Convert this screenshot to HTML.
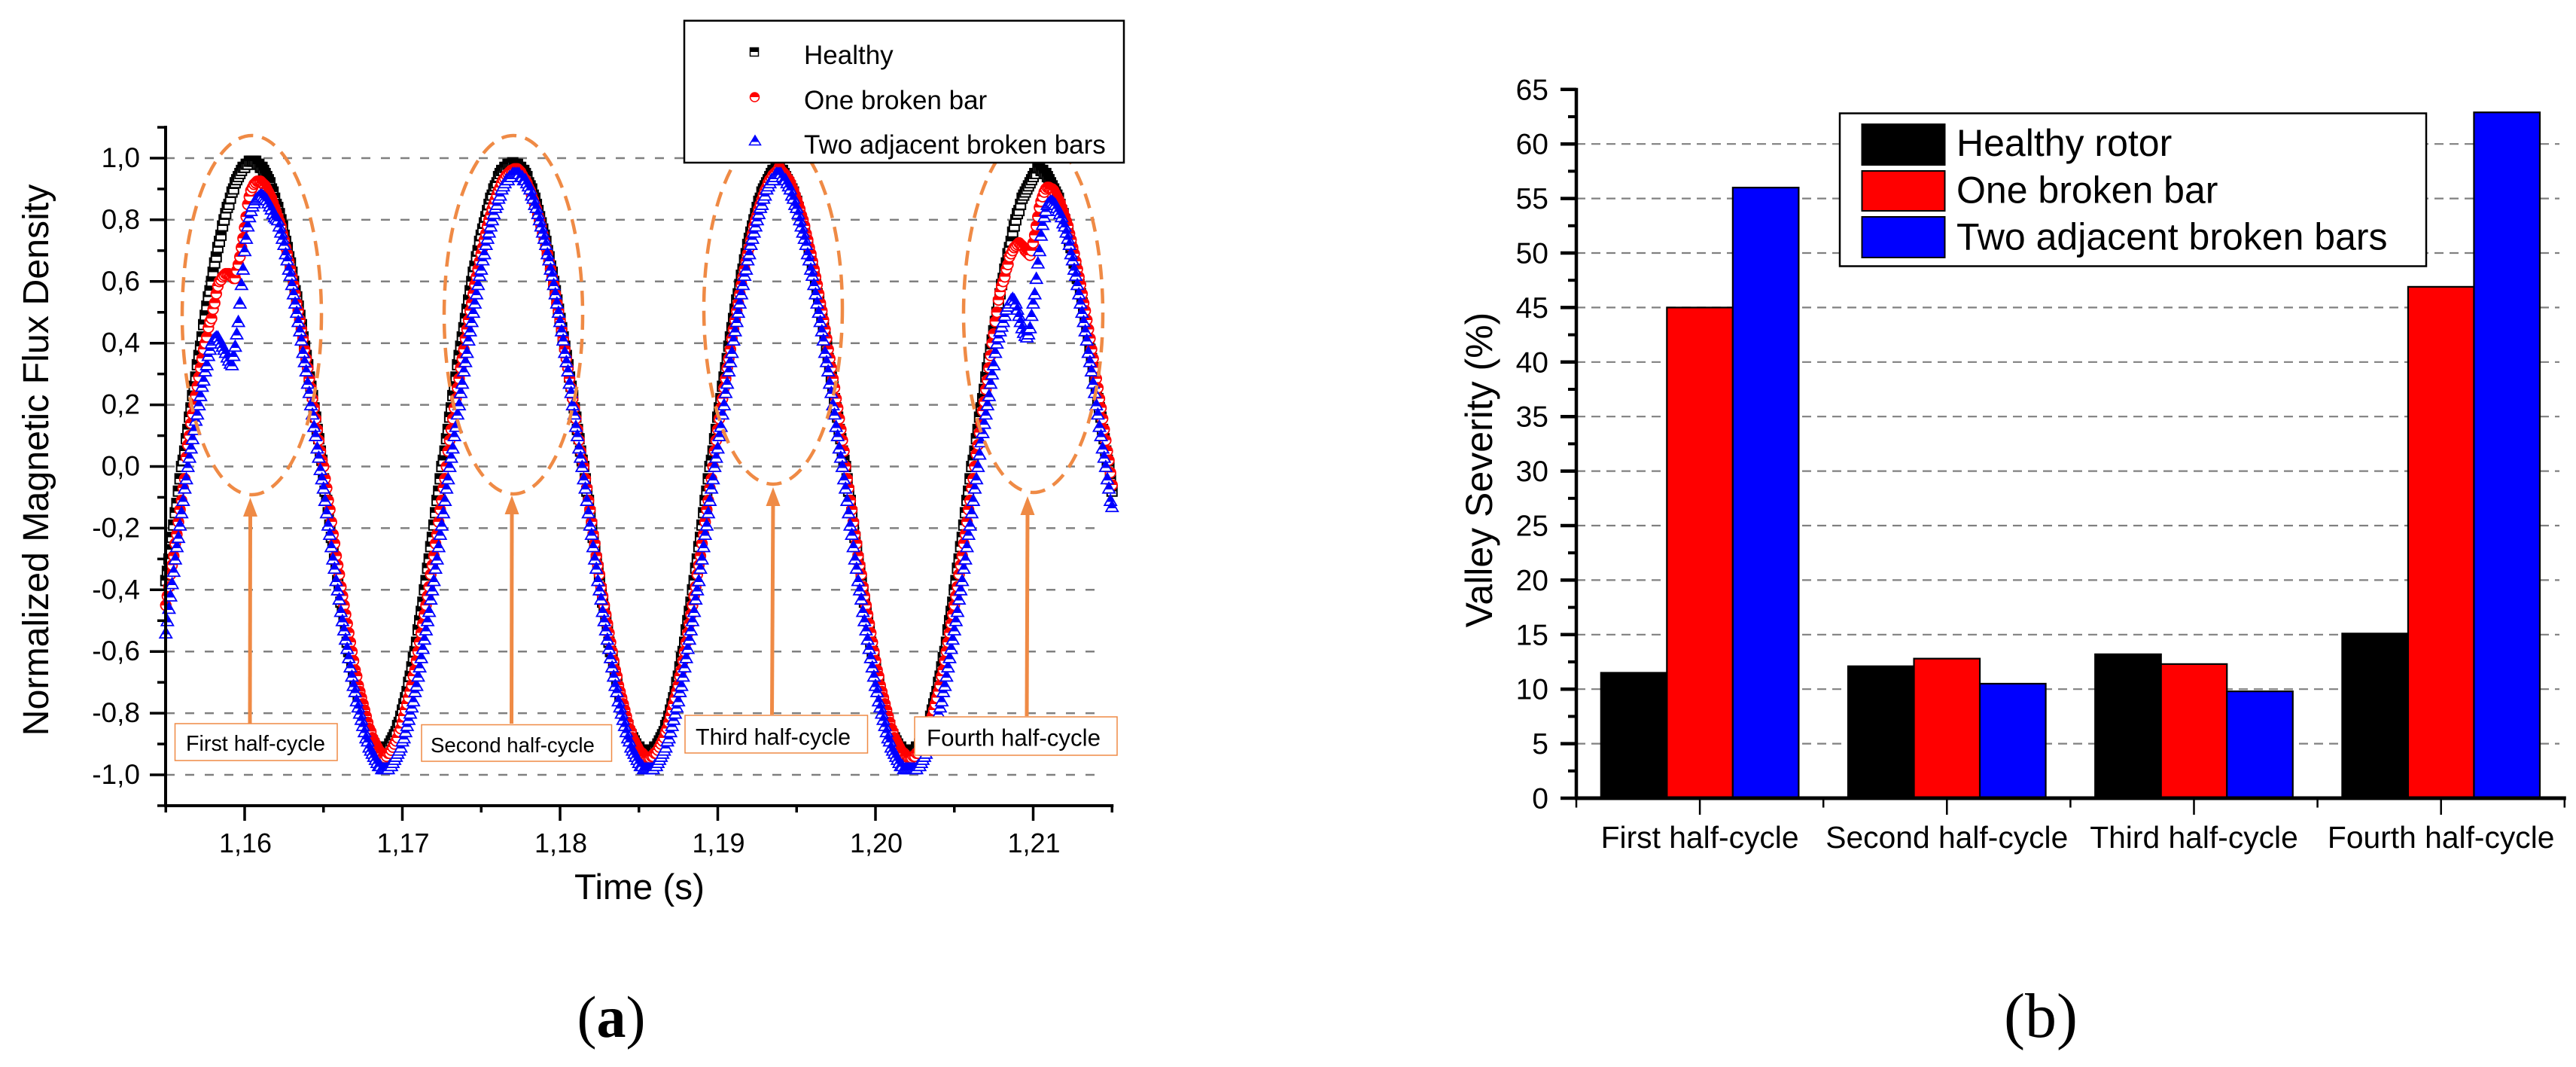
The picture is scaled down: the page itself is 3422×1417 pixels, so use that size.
<!DOCTYPE html>
<html lang="en">
<head>
<meta charset="utf-8">
<title>Normalized flux density and valley severity</title>
<style>
html,body{margin:0;padding:0;background:#fff;}
svg{display:block;}
text{font-family:"Liberation Sans",Arial,sans-serif;fill:#000;}
.serif{font-family:"Liberation Serif",serif;}
</style>
</head>
<body>
<svg id="figure" xmlns="http://www.w3.org/2000/svg" width="3422" height="1417" viewBox="0 0 3422 1417">
  <defs>
    <linearGradient id="half-black" x1="0" y1="0" x2="0" y2="1"><stop offset="0.5" stop-color="#000"/><stop offset="0.5" stop-color="#fff"/></linearGradient>
    <linearGradient id="half-red" x1="0" y1="0" x2="0" y2="1"><stop offset="0.5" stop-color="#f00"/><stop offset="0.5" stop-color="#fff"/></linearGradient>
    <linearGradient id="half-blue" x1="0" y1="0" x2="0" y2="1"><stop offset="0.68" stop-color="#00f"/><stop offset="0.68" stop-color="#fff"/></linearGradient>
  </defs>
  <rect x="0" y="0" width="3422" height="1417" fill="#fff"/>

  <g id="chart-a">
    <g id="a-grid"></g>
    <g id="a-series"></g>
    <g id="a-axes"></g>
    <text transform="translate(64,611) rotate(-90)" text-anchor="middle" font-size="48.3">Normalized Magnetic Flux Density</text>
    <text x="849.5" y="1194" text-anchor="middle" font-size="47.7">Time (s)</text>

    <g fill="none" stroke="#ef8a45">
      <ellipse cx="334.5" cy="418.5" rx="92.5" ry="238.5" stroke-width="4.5" stroke-dasharray="20 12"/>
      <ellipse cx="682" cy="418" rx="92" ry="238" stroke-width="4.5" stroke-dasharray="20 12"/>
      <ellipse cx="1027" cy="410" rx="92" ry="233" stroke-width="4.5" stroke-dasharray="20 12"/>
      <ellipse cx="1372.5" cy="416" rx="92.5" ry="238" stroke-width="4.5" stroke-dasharray="20 12"/>
      <line x1="332" y1="961" x2="332.5" y2="680" stroke-width="5"/>
      <polygon points="332.5,661 323,686 342,686" fill="#ef8a45" stroke="none"/>
      <line x1="679.5" y1="961" x2="680" y2="678" stroke-width="5"/>
      <polygon points="680,658 670.5,683 689.5,683" fill="#ef8a45" stroke="none"/>
      <line x1="1025.5" y1="949" x2="1027" y2="665" stroke-width="5"/>
      <polygon points="1027,647 1017.5,672 1036.5,672" fill="#ef8a45" stroke="none"/>
      <line x1="1364" y1="951" x2="1365" y2="677" stroke-width="5"/>
      <polygon points="1365,659 1355.5,684 1374.5,684" fill="#ef8a45" stroke="none"/>
    </g>
    <g>
      <rect x="232.5" y="961" width="215.5" height="49" fill="#fff" stroke="#ef8a45" stroke-width="1.5"/>
      <text x="247" y="997" font-size="28.7">First half-cycle</text>
      <rect x="560" y="962.5" width="252.5" height="48.5" fill="#fff" stroke="#ef8a45" stroke-width="1.5"/>
      <text x="572" y="999" font-size="27.6">Second half-cycle</text>
      <rect x="910" y="950" width="242.5" height="50" fill="#fff" stroke="#ef8a45" stroke-width="1.5"/>
      <text x="924" y="989" font-size="30.4">Third half-cycle</text>
      <rect x="1215" y="952" width="269" height="51" fill="#fff" stroke="#ef8a45" stroke-width="1.5"/>
      <text x="1231" y="990.5" font-size="31.25">Fourth half-cycle</text>
    </g>
    <g>
      <rect x="909" y="27.5" width="584" height="188.5" fill="#fff" stroke="#000" stroke-width="2.5"/>
      <rect x="996.5" y="63.5" width="11" height="11" fill="url(#half-black)" stroke="#000" stroke-width="1.5"/>
      <text x="1068" y="85" font-size="35">Healthy</text>
      <circle cx="1002.5" cy="129" r="6" fill="url(#half-red)" stroke="#f00" stroke-width="1.5"/>
      <text x="1068" y="145" font-size="35">One broken bar</text>
      <path d="M1003 180 L1010.5 192.5 L995.5 192.5 Z" fill="url(#half-blue)" stroke="#00f" stroke-width="1.5"/>
      <text x="1068" y="204" font-size="35">Two adjacent broken bars</text>
    </g>
    <text class="serif" x="812" y="1377" text-anchor="middle" font-size="78">(<tspan font-weight="bold">a</tspan>)</text>
  </g>

  <g id="chart-b">
    <g id="b-grid"></g>
    <g id="b-bars"></g>
    <g id="b-axes"></g>
    <text transform="translate(1982,624) rotate(-90)" text-anchor="middle" font-size="50">Valley Severity (%)</text>
    <g>
      <rect x="2444" y="150.5" width="779" height="203" fill="#fff" stroke="#000" stroke-width="2.5"/>
      <rect x="2473.5" y="165" width="110" height="54" fill="#000" stroke="#000" stroke-width="2"/>
      <text x="2599" y="207" font-size="50">Healthy rotor</text>
      <rect x="2473.5" y="227" width="110" height="53" fill="#f00" stroke="#000" stroke-width="2"/>
      <text x="2599" y="269.5" font-size="50">One broken bar</text>
      <rect x="2473.5" y="288" width="110" height="54" fill="#00f" stroke="#000" stroke-width="2"/>
      <text x="2599" y="331.5" font-size="50">Two adjacent broken bars</text>
    </g>
    <text class="serif" x="2711" y="1377" text-anchor="middle" font-size="84">(b)</text>
  </g>
</svg>

<script>
// ---------- Panel (a) data ----------
const sampleStart = 1.155;
const sampleStep = 0.0001;
const healthyFlux = [
-.37,-.34,-.30,-.27,-.23,-.19,-.15,-.12,-.08,-.04,0,
.02,.05,.09,.12,.16,.19,.23,.26,.29,.33,.36,.39,.42,.46,.49,.52,.55,.57,.60,.63,.66,.68,.71,.73,.75,.78,.80,.82,.84,.85,.87,.89,.90,.92,.93,.94,.95,.96,.97,.97,.98,.98,.99,.99,
.99,
.99,.99,.98,.98,.97,.97,.96,.95,.94,.93,.92,.90,.89,.87,.85,.84,.82,.80,.78,.75,.73,.71,.68,.66,.63,.60,.57,.55,.52,.49,.46,.42,.39,.36,.33,.29,.26,.23,.19,.16,.12,.09,.05,.02,
-.04,-.08,-.11,-.15,-.19,-.23,-.26,-.30,-.33,-.37,-.40,-.44,-.47,-.50,-.53,-.57,-.60,-.62,-.65,-.68,-.70,-.73,-.75,-.77,-.79,-.81,-.83,-.84,-.86,-.87,-.88,-.89,-.90,-.91,-.91,-.92,-.92,-.92,
-.92,-.92,-.91,-.91,-.90,-.89,-.88,-.87,-.86,-.84,-.83,-.81,-.79,-.77,-.75,-.73,-.70,-.68,-.65,-.62,-.60,-.57,-.53,-.50,-.47,-.44,-.40,-.37,-.33,-.30,-.26,-.23,-.19,-.15,-.11,-.08,-.04,0,
.02,.05,.09,.12,.16,.19,.23,.26,.29,.33,.36,.39,.42,.45,.48,.51,.54,.57,.60,.63,.65,.68,.70,.73,.75,.77,.79,.81,.83,.85,.87,.88,.90,.91,.92,.94,.95,.96,.96,.97,.97,.98,.98,.98,
.985,
.98,.98,.98,.97,.97,.96,.96,.95,.94,.92,.91,.90,.88,.87,.85,.83,.81,.79,.77,.75,.73,.70,.68,.65,.63,.60,.57,.54,.51,.48,.45,.42,.39,.36,.33,.29,.26,.23,.19,.16,.12,.09,.05,.02,0,
-.04,-.08,-.11,-.15,-.19,-.23,-.26,-.30,-.33,-.37,-.40,-.44,-.47,-.50,-.53,-.57,-.60,-.62,-.65,-.68,-.70,-.73,-.75,-.77,-.79,-.81,-.83,-.84,-.86,-.87,-.88,-.89,-.90,-.91,-.91,-.92,-.92,-.92,
-.92,-.92,-.92,
-.92,-.92,-.92,-.91,-.91,-.90,-.89,-.88,-.87,-.86,-.84,-.83,-.81,-.79,-.77,-.75,-.73,-.70,-.68,-.65,-.62,-.60,-.57,-.53,-.50,-.47,-.44,-.40,-.37,-.33,-.30,-.26,-.23,-.19,-.15,-.11,-.08,-.04,0,
.02,.05,.09,.12,.16,.19,.22,.26,.29,.32,.35,.39,.42,.45,.48,.51,.54,.56,.59,.62,.64,.67,.69,.72,.74,.76,.78,.80,.82,.84,.86,.87,.89,.90,.91,.92,.93,.94,.95,.96,.96,.97,.97,
.97,.96,.96,.95,.94,.93,.92,.91,.90,.89,.87,.86,.84,.82,.80,.78,.76,.74,.72,.69,.67,.64,.62,.59,.56,.54,.51,.48,.45,.42,.39,.35,.32,.29,.26,.22,.19,.16,.12,.09,.05,.02,0,
-.04,-.08,-.11,-.15,-.19,-.23,-.26,-.30,-.33,-.37,-.40,-.44,-.47,-.50,-.53,-.57,-.60,-.62,-.65,-.68,-.70,-.73,-.75,-.77,-.79,-.81,-.83,-.84,-.86,-.87,-.88,-.89,-.90,-.91,-.91,-.92,-.92,-.92,
-.92,-.92,-.92,
-.92,-.92,-.92,-.91,-.91,-.90,-.89,-.88,-.87,-.86,-.84,-.83,-.81,-.79,-.77,-.75,-.73,-.70,-.68,-.65,-.62,-.60,-.57,-.53,-.50,-.47,-.44,-.40,-.37,-.33,-.30,-.26,-.23,-.19,-.15,-.11,-.08,-.04,0,
.02,.05,.09,.12,.16,.19,.22,.25,.29,.32,.35,.38,.41,.44,.47,.50,.53,.56,.59,.61,.64,.66,.69,.71,.73,.76,.78,.80,.82,.83,.85,.87,.88,.89,.90,.91,.92,.93,.94,.95,.95,.97,
.97,.96,.96,.95,.95,.94,.93,.92,.91,.90,.89,.88,.87,.85,.83,.82,.80,.78,.76,.73,.71,.69,.66,.64,.61,.59,.56,.53,.50,.47,.44,.41,.38,.35,.32,.29,.25,.22,.19,.16,.12,.09,.05,.02,
0,-.04,-.08
];
const oneBrokenBarFlux = [
-.45,-.42,-.39,-.35,-.32,-.29,-.25,-.22,-.18,-.14,-.11,-.07,-.04,
.03,.07,.10,.14,.17,.20,.23,.26,.29,.32,.35,.38,.40,.42,.45,.47,.48,.51,.53,.56,.585,.60,.605,.615,.62,.625,.625,.625,.62,.615,.61,.61,.635,.655,.68,.71,.74,.775,.81,.85,.875,.895,.905,.915,.92,.925,.925,.925,.92,.915,.91,.90,.89,.88,.87,.855,.84,.825,.81,.795,
.78,.755,.735,.71,.69,.665,.64,.615,.59,.56,.53,.505,.475,.445,.415,.38,.35,.32,.285,.255,.22,.19,.155,.12,.085,.05,.02,0,
-.04,-.07,-.11,-.14,-.18,-.22,-.25,-.29,-.32,-.35,-.39,-.42,-.45,-.48,-.51,-.54,-.57,-.60,-.63,-.66,-.68,-.71,-.73,-.75,-.77,-.79,-.81,-.83,-.85,-.86,-.88,-.89,-.90,-.91,-.92,-.93,-.93,-.94,
-.945,
-.94,-.93,-.93,-.92,-.91,-.90,-.89,-.88,-.86,-.85,-.83,-.81,-.79,-.77,-.75,-.73,-.71,-.68,-.66,-.63,-.60,-.57,-.54,-.51,-.48,-.45,-.42,-.39,-.35,-.32,-.29,-.25,-.22,-.18,-.14,-.11,-.07,-.04,0,
.05,.085,.12,.155,.19,.22,.255,.285,.32,.35,.38,.415,.445,.475,.505,.53,.56,.59,.615,.64,.665,.69,.71,.735,.755,.78,.80,.815,.835,.85,.865,.88,.895,.905,.92,.93,.935,.945,.95,.955,.96,.96,.965,
.965,
.965,.96,.955,.945,.935,.93,.92,.905,.895,.88,.865,.85,.835,.815,.80,.78,.755,.735,.71,.69,.665,.64,.615,.59,.56,.53,.505,.475,.445,.415,.38,.35,.32,.285,.255,.22,.19,.155,.12,.085,.05,.02,0,
-.04,-.07,-.11,-.14,-.18,-.22,-.25,-.29,-.32,-.35,-.39,-.42,-.45,-.48,-.51,-.54,-.57,-.60,-.63,-.66,-.68,-.71,-.73,-.75,-.77,-.79,-.81,-.83,-.85,-.86,-.88,-.89,-.90,-.91,-.92,-.93,-.93,-.94,-.94,-.945,-.945,
-.945,-.94,-.94,-.93,-.93,-.92,-.91,-.90,-.89,-.88,-.86,-.85,-.83,-.81,-.79,-.77,-.75,-.73,-.71,-.68,-.66,-.63,-.60,-.57,-.54,-.51,-.48,-.45,-.42,-.39,-.35,-.32,-.29,-.25,-.22,-.18,-.14,-.11,-.07,-.04,0,
.05,.085,.12,.155,.19,.22,.255,.285,.32,.35,.38,.415,.445,.475,.505,.53,.56,.59,.615,.64,.665,.69,.71,.735,.755,.78,.80,.815,.835,.85,.865,.88,.895,.905,.92,.93,.935,.945,.95,.955,.96,
.97,
.96,.955,.95,.945,.935,.93,.92,.905,.895,.88,.865,.85,.835,.815,.80,.78,.755,.735,.71,.69,.665,.64,.615,.59,.56,.53,.505,.475,.445,.415,.38,.35,.32,.285,.255,.22,.19,.155,.12,.085,.05,0,
-.04,-.07,-.11,-.14,-.18,-.22,-.25,-.29,-.32,-.35,-.39,-.42,-.45,-.48,-.51,-.54,-.57,-.60,-.63,-.66,-.68,-.71,-.73,-.75,-.77,-.79,-.81,-.83,-.85,-.86,-.88,-.89,-.90,-.91,-.92,-.93,-.93,-.94,-.94,-.945,-.945,
-.945,-.94,-.94,-.93,-.93,-.92,-.91,-.90,-.89,-.88,-.86,-.85,-.83,-.81,-.79,-.77,-.75,-.73,-.71,-.68,-.66,-.63,-.60,-.57,-.54,-.51,-.48,-.45,-.42,-.39,-.35,-.32,-.29,-.25,-.22,-.18,-.14,-.11,-.07,-.04,
0,.04,.07,.11,.14,.18,.21,.25,.28,.32,.36,.40,.43,.47,.50,.54,.565,.585,.60,.615,.64,.655,.68,.69,.70,.71,.715,.72,.725,.72,.715,.71,.70,.695,.69,.685,.70,.725,.75,.78,.81,.84,.86,.875,.89,.90,.905,.905,.90,.90,.895,.885,.875,.865,.855,.84,.825,.81,.795,
.78,.755,.735,.71,.69,.665,.64,.615,.59,.56,.53,.505,.475,.445,.415,.38,.35,.32,.285,.255,.22,.19,.155,.12,.085,.05,.02,
-.02,-.06
];
const twoBrokenBarsFlux = [
-.54,-.50,-.46,-.42,-.38,-.34,-.30,-.26,-.23,-.19,-.15,-.11,-.07,-.04,0,
.03,.06,.09,.12,.15,.17,.20,.23,.26,.28,.31,.33,.36,.38,.40,.41,.415,.42,.42,.41,.40,.39,.38,.37,.355,.345,.335,
.33,.36,.39,.43,.47,.53,.59,.64,.70,.74,.78,.81,.83,.845,.855,.865,.87,.875,.88,
.88,.875,.87,.865,.855,.845,.835,.82,.81,.805,
.80,.78,.76,.74,.72,.69,.67,.64,.62,.59,.56,.53,.50,.47,.44,.41,.37,.34,.31,.27,.24,.20,.17,.13,.10,.06,.03,-.01,
-.04,-.07,-.11,-.15,-.19,-.22,-.26,-.30,-.33,-.37,-.40,-.43,-.47,-.50,-.53,-.56,-.59,-.62,-.65,-.68,-.71,-.73,-.76,-.78,-.80,-.82,-.84,-.86,-.88,-.89,-.91,-.92,-.93,-.94,-.95,-.96,-.97,-.97,-.98,-.98,-.98,
-.98,-.98,-.97,-.97,-.96,-.95,-.94,-.93,-.92,-.91,-.89,-.88,-.86,-.84,-.82,-.80,-.78,-.76,-.73,-.71,-.68,-.65,-.62,-.59,-.56,-.53,-.50,-.47,-.43,-.40,-.37,-.33,-.30,-.26,-.22,-.19,-.15,-.11,-.07,-.04,0,
.03,.06,.10,.13,.17,.20,.24,.27,.31,.34,.37,.41,.44,.47,.50,.53,.56,.59,.62,.64,.67,.69,.72,.74,.76,.78,.80,.82,.84,.85,.87,.88,.90,.91,.92,.93,.93,.94,.94,.95,.95,
.95,
.95,.95,.94,.94,.93,.93,.92,.91,.90,.88,.87,.85,.84,.82,.80,.78,.76,.74,.72,.69,.67,.64,.62,.59,.56,.53,.50,.47,.44,.41,.37,.34,.31,.27,.24,.20,.17,.13,.10,.06,.03,0,
-.04,-.07,-.11,-.15,-.19,-.22,-.26,-.30,-.33,-.37,-.40,-.43,-.47,-.50,-.53,-.56,-.59,-.62,-.65,-.68,-.71,-.73,-.76,-.78,-.80,-.82,-.84,-.86,-.88,-.89,-.91,-.92,-.93,-.94,-.95,-.96,-.97,-.97,-.98,-.98,-.98,
-.98,
-.98,-.98,-.98,-.97,-.97,-.96,-.95,-.94,-.93,-.92,-.91,-.89,-.88,-.86,-.84,-.82,-.80,-.78,-.76,-.73,-.71,-.68,-.65,-.62,-.59,-.56,-.53,-.50,-.47,-.43,-.40,-.37,-.33,-.30,-.26,-.22,-.19,-.15,-.11,-.07,-.04,0,
.03,.06,.10,.13,.17,.20,.24,.27,.31,.34,.37,.41,.44,.47,.50,.53,.56,.59,.62,.64,.67,.69,.72,.74,.76,.78,.80,.82,.84,.85,.87,.88,.90,.91,.92,.93,.93,.94,.95,.95,
.95,.95,.94,.93,.93,.92,.91,.90,.88,.87,.85,.84,.82,.80,.78,.76,.74,.72,.69,.67,.64,.62,.59,.56,.53,.50,.47,.44,.41,.37,.34,.31,.27,.24,.20,.17,.13,.10,.06,.03,0,
-.04,-.07,-.11,-.15,-.19,-.22,-.26,-.30,-.33,-.37,-.40,-.43,-.47,-.50,-.53,-.56,-.59,-.62,-.65,-.68,-.71,-.73,-.76,-.78,-.80,-.82,-.84,-.86,-.88,-.89,-.91,-.92,-.93,-.94,-.95,-.96,-.97,-.97,-.98,-.98,-.98,
-.98,-.98,-.98,
-.98,-.98,-.98,-.97,-.97,-.96,-.95,-.94,-.93,-.92,-.91,-.89,-.88,-.86,-.84,-.82,-.80,-.78,-.76,-.73,-.71,-.68,-.65,-.62,-.59,-.56,-.53,-.50,-.47,-.43,-.40,-.37,-.33,-.30,-.26,-.22,-.19,-.15,-.11,-.07,-.04,0,
.04,.08,.11,.14,.17,.20,.23,.27,.30,.33,.37,.40,.42,.44,.455,.47,.49,.51,.52,.53,.54,.545,.54,.53,.51,.49,.47,.45,.435,.425,.42,.43,.45,.49,.53,.56,.61,.66,.70,.75,.785,.81,.83,.85,.855,.86,.86,.855,.85,.84,.83,.82,.81,.79,
.78,.76,.74,.72,.69,.67,.64,.62,.59,.56,.53,.50,.47,.44,.41,.37,.34,.31,.27,.24,.20,.17,.13,.10,.06,.03,
0,-.04,-.07,-.11,-.13
];
const fluxYTicks = [-1, -0.8, -0.6, -0.4, -0.2, 0, 0.2, 0.4, 0.6, 0.8, 1];
const fluxYLabels = ['-1,0', '-0,8', '-0,6', '-0,4', '-0,2', '0,0', '0,2', '0,4', '0,6', '0,8', '1,0'];
const fluxYMinorTicks = [-1.1, -0.9, -0.7, -0.5, -0.3, -0.1, 0.1, 0.3, 0.5, 0.7, 0.9, 1.1];
const fluxXTicks = [1.16, 1.17, 1.18, 1.19, 1.20, 1.21];
const fluxXLabels = ['1,16', '1,17', '1,18', '1,19', '1,20', '1,21'];
const fluxXMinorTicks = [1.155, 1.165, 1.175, 1.185, 1.195, 1.205, 1.215];

// ---------- Panel (b) data ----------
const halfCycles = ['First half-cycle', 'Second half-cycle', 'Third half-cycle', 'Fourth half-cycle'];
const healthySeverity = [11.5, 12.1, 13.2, 15.1];
const oneBrokenBarSeverity = [45, 12.8, 12.3, 46.9];
const twoBrokenBarsSeverity = [56, 10.5, 9.8, 62.9];
const severityTicks = [0, 5, 10, 15, 20, 25, 30, 35, 40, 45, 50, 55, 60, 65];
const severityMinorTicks = [2.5, 7.5, 12.5, 17.5, 22.5, 27.5, 32.5, 37.5, 42.5, 47.5, 52.5, 57.5, 62.5];

// ---------- Helpers ----------
const NS = 'http://www.w3.org/2000/svg';
function mk(tag, parent, attrs) {
  const el = document.createElementNS(NS, tag);
  for (const k in attrs) el.setAttribute(k, attrs[k]);
  parent.appendChild(el);
  return el;
}
// Panel (a) axis functions
const xA = t => 325 + (t - 1.16) * 20950;
const yA = v => 619.5 - 409.5 * v;
// Panel (b) axis functions
const bandB = 328.2;
const xB = c => 2094 + (c + 0.5) * bandB;
const yB = v => 1060 - 14.48 * v;

// ---------- Panel (a) drawing ----------
const aGrid = document.getElementById('a-grid');
const aSeries = document.getElementById('a-series');
const aAxes = document.getElementById('a-axes');

fluxYTicks.forEach(function (v) {
  const g = mk('line', aGrid, {x1: 220, x2: 1467, y1: yA(v), y2: yA(v), stroke: '#808080', 'stroke-width': 2.5, 'stroke-dasharray': '12 14'});
  
  
});

function drawSeries(values, name, shape) {
  const group = mk('g', aSeries, {});
  
  
  values.forEach(function (v, i) {
    const t = sampleStart + i * sampleStep;
    const px = xA(t), py = yA(v);
    let m;
    if (shape === 'square') {
      m = mk('rect', group, {x: px - 6.5, y: py - 6.5, width: 13, height: 13, fill: 'url(#half-black)', stroke: '#000', 'stroke-width': 2});
    } else if (shape === 'circle') {
      m = mk('circle', group, {cx: px, cy: py, r: 6.8, fill: 'url(#half-red)', stroke: '#f00', 'stroke-width': 1.8});
    } else {
      m = mk('path', group, {d: 'M' + px + ' ' + (py - 7.5) + 'L' + (px + 8) + ' ' + (py + 6.5) + 'L' + (px - 8) + ' ' + (py + 6.5) + 'Z', fill: 'url(#half-blue)', stroke: '#00f', 'stroke-width': 1.8});
    }
    
    
  });
}
drawSeries(healthyFlux, 'healthy', 'square');
drawSeries(oneBrokenBarFlux, 'one-broken-bar', 'circle');
drawSeries(twoBrokenBarsFlux, 'two-broken-bars', 'triangle');

const aYAxis = mk('line', aAxes, {x1: 220, x2: 220, y1: yA(1.1) - 2, y2: yA(-1.1) + 2, stroke: '#000', 'stroke-width': 4});


const aXAxis = mk('line', aAxes, {x1: 218, x2: xA(1.215) + 2, y1: yA(-1.1), y2: yA(-1.1), stroke: '#000', 'stroke-width': 4});



fluxYTicks.forEach(function (v, i) {
  const tick = mk('line', aAxes, {x1: 199, x2: 220, y1: yA(v), y2: yA(v), stroke: '#000', 'stroke-width': 3.5});
  
  
  const label = mk('text', aAxes, {x: 186, y: yA(v) + 12, 'text-anchor': 'end', 'font-size': 37});
  label.textContent = fluxYLabels[i];
  
  
});
fluxYMinorTicks.forEach(function (v) {
  const tick = mk('line', aAxes, {x1: 209, x2: 220, y1: yA(v), y2: yA(v), stroke: '#000', 'stroke-width': 3.5});
  
  
});
fluxXTicks.forEach(function (t, i) {
  const tick = mk('line', aAxes, {x1: xA(t), x2: xA(t), y1: yA(-1.1), y2: 1090, stroke: '#000', 'stroke-width': 3.5});
  
  
  const label = mk('text', aAxes, {x: xA(t) + 1, y: 1132, 'text-anchor': 'middle', 'font-size': 36});
  label.textContent = fluxXLabels[i];
  
  
});
fluxXMinorTicks.forEach(function (t) {
  const tick = mk('line', aAxes, {x1: xA(t), x2: xA(t), y1: yA(-1.1), y2: 1079, stroke: '#000', 'stroke-width': 3.5});
  
  
});

// ---------- Panel (b) drawing ----------
const bGrid = document.getElementById('b-grid');
const bBars = document.getElementById('b-bars');
const bAxes = document.getElementById('b-axes');

severityTicks.forEach(function (v) {
  if (v === 0 || v === 65) return;
  const g = mk('line', bGrid, {x1: 2094, x2: 3400, y1: yB(v), y2: yB(v), stroke: '#808080', 'stroke-width': 2.2, 'stroke-dasharray': '12 8'});
  
  
});

const barWidth = bandB * 0.8 / 3;
function drawBars(values, name, color, slot) {
  values.forEach(function (v, c) {
    const left = xB(c) - 1.5 * barWidth + slot * barWidth;
    const bar = mk('rect', bBars, {x: left, y: yB(v), width: barWidth, height: yB(0) - yB(v), fill: color, stroke: '#000', 'stroke-width': 2.2});
    
    
  });
}
drawBars(healthySeverity, 'healthy-rotor', '#000', 0);
drawBars(oneBrokenBarSeverity, 'one-broken-bar', '#f00', 1);
drawBars(twoBrokenBarsSeverity, 'two-broken-bars', '#00f', 2);

const bYAxis = mk('line', bAxes, {x1: 2094, x2: 2094, y1: yB(65) - 2, y2: yB(0) + 2, stroke: '#000', 'stroke-width': 4.5});


const bXAxis = mk('line', bAxes, {x1: 2092, x2: xB(3) + bandB / 2 + 2, y1: yB(0), y2: yB(0), stroke: '#000', 'stroke-width': 5});



severityTicks.forEach(function (v) {
  const tick = mk('line', bAxes, {x1: 2073, x2: 2094, y1: yB(v), y2: yB(v), stroke: '#000', 'stroke-width': 4.5});
  
  
  const label = mk('text', bAxes, {x: 2057, y: yB(v) + 13.5, 'text-anchor': 'end', 'font-size': 39});
  label.textContent = String(v);
  
  
});
severityMinorTicks.forEach(function (v) {
  const tick = mk('line', bAxes, {x1: 2083, x2: 2094, y1: yB(v), y2: yB(v), stroke: '#000', 'stroke-width': 4});
  
  
});
halfCycles.forEach(function (name, c) {
  const tick = mk('line', bAxes, {x1: xB(c), x2: xB(c), y1: yB(0), y2: 1082, stroke: '#000', 'stroke-width': 2.5});
  
  
  const edge = mk('line', bAxes, {x1: xB(c) - bandB / 2, x2: xB(c) - bandB / 2, y1: yB(0), y2: 1072.5, stroke: '#000', 'stroke-width': 2.5});
  
  
  const label = mk('text', bAxes, {x: xB(c), y: 1126, 'text-anchor': 'middle', 'font-size': 40.8});
  label.textContent = name;
  
  
});
const lastEdge = mk('line', bAxes, {x1: xB(3) + bandB / 2, x2: xB(3) + bandB / 2, y1: yB(0), y2: 1072.5, stroke: '#000', 'stroke-width': 2.5});


</script>
</body>
</html>
